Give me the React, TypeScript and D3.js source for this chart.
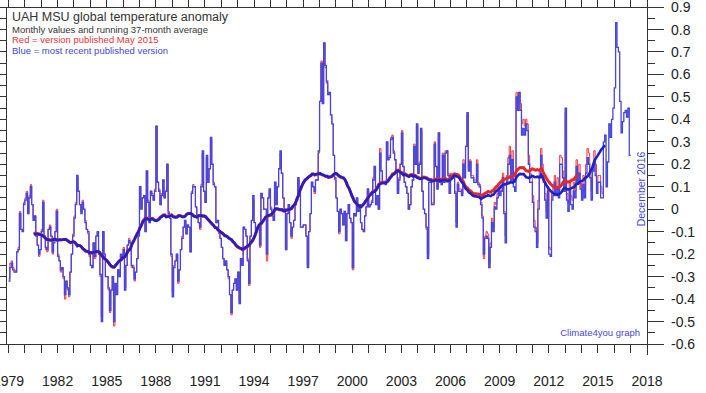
import * as React from 'react';
import * as d3 from 'd3';

// UAH MSU lower troposphere, monthly anomaly (deg C), one row per year from 1979
const startYear = 1979;

const blueMonthly: number[][] = [
  [-0.32, -0.26, -0.24, -0.27, -0.28, -0.28, -0.19, -0.18, -0.02, -0.09, -0.1, 0.02],
  [0.04, 0.07, -0.02, 0.05, 0.1, 0.02, -0.05, -0.03, -0.12, -0.16, -0.2, -0.18],
  [-0.1, 0.03, -0.12, -0.17, -0.18, -0.09, -0.08, -0.12, -0.19, -0.15, -0.1, -0.01],
  [-0.21, -0.23, -0.27, -0.26, -0.3, -0.38, -0.32, -0.35, -0.38, -0.28, -0.2, -0.12],
  [-0.04, 0.02, 0.15, 0.08, 0.02, -0.02, 0.03, 0.0, -0.06, -0.09, -0.1, -0.2],
  [-0.25, -0.26, -0.15, -0.21, -0.12, -0.1, -0.2, -0.29, -0.5, -0.1, -0.2, -0.3],
  [-0.3, -0.35, -0.45, -0.36, -0.3, -0.5, -0.33, -0.38, -0.27, -0.3, -0.2, -0.22],
  [-0.18, -0.36, -0.25, -0.16, -0.14, -0.15, -0.25, -0.26, -0.31, -0.28, -0.22, -0.12],
  [0.1, 0.0, 0.05, 0.06, -0.1, 0.17, 0.03, -0.06, 0.08, 0.06, 0.04, 0.08],
  [0.37, 0.12, 0.08, 0.02, 0.06, 0.13, 0.05, 0.08, 0.2, -0.02, -0.04, -0.2],
  [-0.39, -0.26, -0.23, -0.2, -0.32, -0.27, -0.18, -0.13, -0.08, -0.05, -0.11, -0.07],
  [-0.08, -0.19, 0.07, 0.1, 0.1, 0.01, -0.04, -0.06, -0.08, 0.1, 0.26, 0.08],
  [0.03, 0.24, 0.12, 0.18, 0.32, 0.2, 0.11, 0.1, -0.06, -0.05, -0.1, -0.13],
  [-0.17, -0.22, -0.25, -0.23, -0.27, -0.3, -0.38, -0.46, -0.36, -0.33, -0.31, -0.36],
  [-0.28, -0.42, -0.22, -0.25, -0.08, -0.09, -0.12, -0.23, -0.33, -0.12, -0.05, 0.06],
  [-0.06, -0.1, -0.08, -0.07, -0.16, 0.07, 0.05, 0.0, 0.0, -0.2, 0.05, 0.09],
  [0.0, -0.03, -0.05, 0.12, 0.02, 0.1, 0.18, 0.26, 0.16, 0.05, 0.0, -0.18],
  [-0.02, 0.02, -0.06, -0.12, -0.08, -0.05, 0.02, 0.04, 0.14, 0.08, -0.08, -0.08],
  [-0.07, -0.07, -0.12, -0.26, -0.1, -0.02, 0.12, 0.1, 0.08, 0.13, 0.13, 0.26],
  [0.48, 0.65, 0.47, 0.74, 0.64, 0.57, 0.51, 0.52, 0.42, 0.38, 0.24, 0.14],
  [0.05, -0.01, -0.1, 0.0, -0.02, -0.07, -0.01, -0.14, -0.02, 0.02, -0.04, -0.06],
  [-0.26, -0.02, -0.03, 0.05, -0.01, 0.02, -0.06, -0.09, -0.1, -0.03, 0.01, 0.09],
  [0.01, 0.02, 0.03, 0.13, 0.19, 0.02, 0.06, 0.0, 0.25, 0.17, 0.12, 0.12],
  [0.11, 0.3, 0.22, 0.23, 0.31, 0.32, 0.25, 0.22, 0.17, 0.07, 0.13, 0.2],
  [0.34, 0.19, 0.12, 0.1, 0.07, 0.0, 0.02, 0.1, 0.13, 0.28, 0.2, 0.38],
  [0.16, 0.2, 0.36, 0.08, 0.0, -0.02, -0.08, -0.22, 0.12, 0.12, 0.02, 0.02],
  [0.29, 0.19, 0.09, 0.34, 0.12, 0.11, 0.24, 0.12, 0.25, 0.26, 0.15, 0.07],
  [0.15, 0.14, 0.14, 0.07, -0.08, 0.11, 0.08, 0.08, 0.06, 0.2, 0.14, 0.28],
  [0.43, 0.17, 0.21, 0.14, 0.14, 0.12, 0.12, 0.2, 0.11, 0.1, 0.02, -0.04],
  [-0.2, -0.13, -0.12, -0.13, -0.26, -0.17, -0.06, -0.1, 0.01, 0.0, 0.05, 0.08],
  [0.06, 0.08, 0.14, -0.02, -0.15, 0.12, 0.2, 0.24, 0.12, 0.22, 0.1, 0.08],
  [0.5, 0.44, 0.52, 0.44, 0.33, 0.36, 0.33, 0.38, 0.35, 0.2, 0.12, 0.12],
  [0.03, -0.08, -0.1, -0.17, 0.0, 0.15, 0.24, 0.17, 0.12, 0.04, -0.04, 0.08],
  [-0.2, -0.21, 0.04, 0.06, 0.12, 0.06, 0.1, 0.05, 0.2, 0.2, 0.14, 0.08],
  [0.45, 0.04, -0.01, 0.09, 0.02, 0.0, 0.08, 0.05, 0.19, 0.12, 0.16, 0.09],
  [0.04, 0.11, 0.05, 0.16, 0.23, 0.2, 0.14, 0.04, 0.17, 0.21, 0.15, 0.07],
  [0.12, 0.12, 0.05, 0.05, 0.3, 0.33, 0.1, 0.21, 0.38, 0.32, 0.4, 0.45],
  [0.54, 0.83, 0.72, 0.7, 0.48, 0.34, 0.39, 0.43, 0.44, 0.41, 0.45, 0.24],
];

// version published May 2015 (ends April 2015)
const redMonthly: number[][] = [
  [-0.31, -0.24, -0.23, -0.26, -0.27, -0.28, -0.19, -0.17, -0.01, -0.09, -0.1, 0.03],
  [0.05, 0.08, -0.02, 0.06, 0.11, 0.02, -0.04, -0.03, -0.11, -0.16, -0.21, -0.18],
  [-0.09, 0.04, -0.12, -0.18, -0.19, -0.09, -0.07, -0.12, -0.2, -0.14, -0.1, 0.0],
  [-0.2, -0.23, -0.28, -0.26, -0.31, -0.4, -0.32, -0.36, -0.39, -0.28, -0.2, -0.11],
  [-0.03, 0.03, 0.14, 0.08, 0.02, -0.01, 0.04, 0.0, -0.05, -0.09, -0.11, -0.21],
  [-0.25, -0.26, -0.15, -0.22, -0.12, -0.1, -0.2, -0.3, -0.48, -0.1, -0.21, -0.3],
  [-0.3, -0.36, -0.46, -0.36, -0.3, -0.52, -0.34, -0.38, -0.27, -0.3, -0.21, -0.22],
  [-0.17, -0.35, -0.25, -0.16, -0.13, -0.15, -0.26, -0.25, -0.32, -0.28, -0.22, -0.11],
  [0.1, 0.01, 0.05, 0.06, -0.1, 0.17, 0.04, -0.06, 0.08, 0.07, 0.04, 0.09],
  [0.37, 0.12, 0.09, 0.02, 0.07, 0.13, 0.05, 0.08, 0.2, -0.01, -0.04, -0.21],
  [-0.37, -0.25, -0.23, -0.2, -0.33, -0.27, -0.18, -0.12, -0.08, -0.05, -0.11, -0.08],
  [-0.08, -0.19, 0.08, 0.11, 0.1, 0.01, -0.04, -0.06, -0.09, 0.11, 0.25, 0.08],
  [0.03, 0.23, 0.13, 0.18, 0.31, 0.2, 0.12, 0.1, -0.06, -0.05, -0.11, -0.13],
  [-0.17, -0.22, -0.25, -0.24, -0.27, -0.31, -0.38, -0.47, -0.36, -0.33, -0.31, -0.36],
  [-0.28, -0.41, -0.22, -0.25, -0.08, -0.09, -0.12, -0.22, -0.34, -0.12, -0.05, 0.04],
  [-0.06, -0.1, -0.08, -0.07, -0.17, 0.07, 0.05, 0.0, 0.0, -0.23, 0.05, 0.08],
  [0.01, -0.03, -0.05, 0.12, 0.02, 0.1, 0.18, 0.25, 0.16, 0.05, 0.0, -0.18],
  [-0.02, 0.02, -0.06, -0.13, -0.08, -0.05, 0.02, 0.04, 0.13, 0.08, -0.08, -0.08],
  [-0.07, -0.07, -0.12, -0.25, -0.1, -0.02, 0.12, 0.1, 0.07, 0.13, 0.13, 0.25],
  [0.48, 0.66, 0.47, 0.74, 0.63, 0.56, 0.51, 0.51, 0.42, 0.38, 0.24, 0.13],
  [0.05, -0.01, -0.11, 0.0, -0.02, -0.07, -0.01, -0.14, -0.02, 0.02, -0.04, -0.06],
  [-0.27, -0.02, -0.03, 0.05, -0.01, 0.02, -0.06, -0.09, -0.1, -0.03, 0.01, 0.08],
  [0.01, 0.02, 0.04, 0.14, 0.19, 0.02, 0.06, 0.0, 0.27, 0.17, 0.12, 0.12],
  [0.12, 0.3, 0.23, 0.24, 0.32, 0.33, 0.26, 0.22, 0.17, 0.08, 0.14, 0.2],
  [0.35, 0.19, 0.12, 0.1, 0.07, 0.0, 0.02, 0.1, 0.13, 0.29, 0.2, 0.37],
  [0.17, 0.21, 0.35, 0.08, 0.0, -0.02, -0.09, -0.2, 0.12, 0.12, 0.02, 0.03],
  [0.3, 0.19, 0.1, 0.34, 0.13, 0.12, 0.25, 0.13, 0.26, 0.26, 0.16, 0.07],
  [0.16, 0.15, 0.14, 0.08, -0.06, 0.12, 0.09, 0.09, 0.07, 0.22, 0.15, 0.28],
  [0.42, 0.18, 0.22, 0.15, 0.15, 0.13, 0.13, 0.22, 0.12, 0.11, 0.03, -0.03],
  [-0.22, -0.12, -0.1, -0.11, -0.24, -0.15, -0.04, -0.08, 0.03, 0.02, 0.07, 0.1],
  [0.08, 0.1, 0.16, -0.01, -0.12, 0.15, 0.23, 0.28, 0.15, 0.26, 0.13, 0.12],
  [0.52, 0.47, 0.52, 0.47, 0.38, 0.4, 0.37, 0.4, 0.38, 0.24, 0.16, 0.14],
  [0.06, -0.05, -0.08, -0.15, 0.04, 0.18, 0.27, 0.2, 0.15, 0.07, -0.01, 0.1],
  [-0.17, -0.18, 0.07, 0.1, 0.15, 0.1, 0.14, 0.1, 0.24, 0.23, 0.17, 0.1],
  [0.43, 0.07, 0.03, 0.12, 0.06, 0.04, 0.12, 0.08, 0.22, 0.15, 0.2, 0.12],
  [0.07, 0.15, 0.08, 0.2, 0.27, 0.25, 0.18, 0.08, 0.2, 0.26, 0.2, 0.12],
  [0.15, 0.15, 0.1, 0.07],
];

const xTickLabels = [1979, 1982, 1985, 1988, 1991, 1994, 1997, 2000, 2003, 2006, 2009, 2012, 2015, 2018];
const yTickLabels = [0.9, 0.8, 0.7, 0.6, 0.5, 0.4, 0.3, 0.2, 0.1, 0, -0.1, -0.2, -0.3, -0.4, -0.5, -0.6];

const RUN = 37;

type Pt = [number, number];

const toPoints = (rows: number[][]): Pt[] =>
  rows.flat().map((v, i) => [startYear + i / 12, v] as Pt);

const runningMean = (rows: number[][]): Pt[] => {
  const vals = rows.flat();
  const half = Math.floor(RUN / 2);
  const out: Pt[] = [];
  for (let i = half; i < vals.length - half; i++) {
    const m = d3.mean(vals.slice(i - half, i + half + 1)) as number;
    out.push([startYear + (i + 0.5) / 12, m]);
  }
  return out;
};

export default function App() {
  const W = 706, H = 393;
  const left = 6, top = 7, right = 647, bottom = 344;

  const x = d3.scaleLinear().domain([1979, 2018]).range([8.5, right]);
  const y = d3.scaleLinear().domain([-0.6, 0.9]).range([bottom, top]);

  const step = d3.line<Pt>().x(d => x(d[0])).y(d => y(d[1])).curve(d3.curveStepAfter);
  const smooth = d3.line<Pt>().x(d => x(d[0])).y(d => y(d[1]));

  const withEnd = (pts: Pt[]): Pt[] => {
    const last = pts[pts.length - 1];
    return [...pts, [last[0] + 1 / 12, last[1]]];
  };

  const bluePts = withEnd(toPoints(blueMonthly));
  const redPts = withEnd(toPoints(redMonthly));
  const blueAvg = runningMean(blueMonthly);
  const redAvg = runningMean(redMonthly);

  const yearTicks = d3.range(1979, 2019);
  const yMinor = d3.range(-12, 19).map(k => k * 0.05);

  const font = "'Liberation Sans', Arial, sans-serif";
  const axisCol = '#333';
  const blueTxt = '#4646dc';

  return (
    <svg width={W} height={H} style={{ position: 'fixed', left: 0, top: 0, background: '#fff' }}
         fontFamily={font}>
      <rect x={0} y={0} width={W} height={H} fill="#fff" />

      {/* frame */}
      <g stroke={axisCol} strokeWidth={1} shapeRendering="crispEdges">
        <line x1={0} x2={right} y1={top} y2={top} />
        <line x1={left} x2={left} y1={top} y2={bottom} />
        <line x1={0} x2={right} y1={bottom} y2={bottom} />
        <line x1={right} x2={right} y1={0} y2={bottom + 11} />
        {yearTicks.map(t => (
          <g key={'yt' + t}>
            <line x1={x(t)} x2={x(t)} y1={0} y2={top} />
            <line x1={x(t)} x2={x(t)} y1={bottom} y2={bottom + 9} />
          </g>
        ))}
        {yMinor.map(v => {
          const major = Math.abs(Math.round(v * 10) - v * 10) < 1e-6;
          return (
            <g key={'ym' + v.toFixed(2)}>
              <line x1={0} x2={left} y1={y(v)} y2={y(v)} />
              <line x1={right} x2={right + (major ? 17 : 8)} y1={y(v)} y2={y(v)} />
            </g>
          );
        })}
      </g>

      {/* right axis labels */}
      <g fontSize={14} fill="#222">
        {yTickLabels.map(v => (
          <text key={'yl' + v} x={right + 24} y={y(v)} dy="0.36em">
            {(Math.round(v * 10) / 10).toString()}
          </text>
        ))}
      </g>

      {/* bottom labels */}
      <g fontSize={14} fill="#222" textAnchor="middle">
        {xTickLabels.map(t => (
          <text key={'xl' + t} x={x(t)} y={bottom + 42}>{t}</text>
        ))}
      </g>

      <defs>
        <clipPath id="plotClip">
          <rect x={left} y={top} width={right - left} height={bottom - top} />
        </clipPath>
      </defs>

      <g clipPath="url(#plotClip)" fill="none" strokeLinejoin="miter">
        <path d={step(redPts) as string} stroke="#f23b3b" strokeWidth={1} />
        <path d={step(bluePts) as string} stroke="#4646de" strokeWidth={1.3} />
        <path d={smooth(redAvg) as string} stroke="#e62828" strokeWidth={3} />
        <path d={smooth(blueAvg) as string} stroke="#2020c4" strokeWidth={2.6} />
      </g>

      {/* legend text */}
      <text x={12} y={21} fontSize={12.5} fill="#333">UAH MSU global temperature anomaly</text>
      <text x={12} y={32.5} fontSize={9.5} fill="#333">Monthly values and running 37-month average</text>
      <text x={12} y={43} fontSize={9.5} fill="#ee3333">Red = version published May 2015</text>
      <text x={12} y={53.5} fontSize={9.5} fill={blueTxt}>Blue = most recent published version</text>

      <text transform={`translate(641, 189) rotate(-90)`} fontSize={10.5} fill={blueTxt}
            textAnchor="middle" dy="0.35em">December 2016</text>
      <text x={640} y={336} fontSize={9.5} fill={blueTxt} textAnchor="end">Climate4you graph</text>
    </svg>
  );
}
